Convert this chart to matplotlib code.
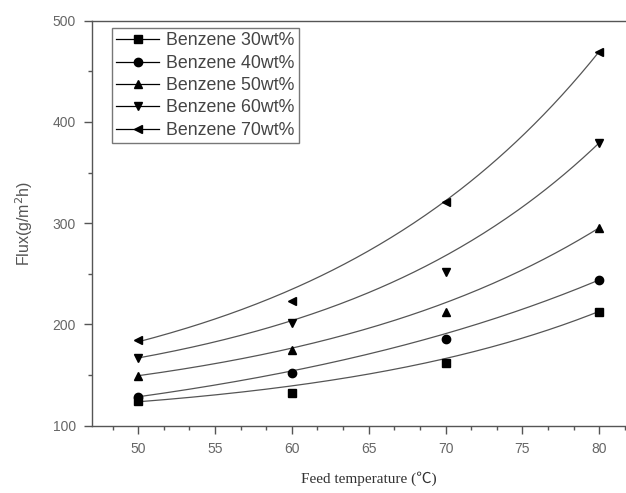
import numpy as np
import matplotlib.pyplot as plt

# Flux vs feed temperature for different benzene concentrations
temperature = [50, 60, 70, 80]
flux_30 = [124.7, 132.6, 162.0, 212.6]
flux_40 = [128.6, 152.0, 186.0, 244.0]
flux_50 = [149.0, 174.8, 212.6, 295.6]
flux_60 = [166.6, 201.0, 252.0, 379.5]
flux_70 = [184.6, 223.0, 321.0, 469.0]

# values of the fitted exponential curves at the same temperatures
curve_30 = [124.7, 137.0, 168.0, 212.6]
curve_40 = [128.6, 154.0, 191.0, 244.0]
curve_50 = [149.0, 177.4, 221.0, 295.6]
curve_60 = [166.6, 204.4, 267.6, 379.5]
curve_70 = [184.6, 230.8, 325.0, 469.0]

labels = ['Benzene 30wt%', 'Benzene 40wt%', 'Benzene 50wt%',
          'Benzene 60wt%', 'Benzene 70wt%']
markers = ['s', 'o', '^', 'v', '<']
series = [flux_30, flux_40, flux_50, flux_60, flux_70]
curves = [curve_30, curve_40, curve_50, curve_60, curve_70]


def exp_grow(x, y):
    # y = y0 + A*exp(b*(x-50)); scan b, linear least squares for y0 and A
    x = np.asarray(x, float)
    y = np.asarray(y, float)
    best = None
    for b in np.linspace(0.005, 0.12, 500):
        M = np.column_stack([np.ones_like(x), np.exp(b * (x - 50))])
        coef, *_ = np.linalg.lstsq(M, y, rcond=None)
        r = np.sum((M @ coef - y) ** 2)
        if best is None or r < best[0]:
            best = (r, coef, b)
    return best[1][0], best[1][1], best[2]


plt.rcParams['font.family'] = ['Liberation Sans', 'DejaVu Sans']
grey = '#555555'

fig = plt.figure(figsize=(6.26, 4.93), dpi=100)
ax = fig.add_axes([0.147, 0.1365, 0.884, 0.8215])

x_fit = np.linspace(50, 80, 200)
for y, c, lab, mk in zip(series, curves, labels, markers):
    y0, A, b = exp_grow(temperature, c)
    ax.plot(x_fit, y0 + A * np.exp(b * (x_fit - 50)), color=grey, lw=0.9)
    ax.plot(temperature, y, linestyle='none', marker=mk, color='black',
            markersize=6)
    # legend entry: line + marker
    ax.plot([], [], color='black', lw=0.9, marker=mk, markersize=6, label=lab)

ax.set_xlim(47, 83)
ax.set_ylim(100, 500)
ax.set_xticks([50, 55, 60, 65, 70, 75, 80])
ax.set_xticks(np.arange(47 + 4 / 3, 83, 5 / 3), minor=True)
ax.set_yticks([100, 200, 300, 400, 500])
ax.set_yticks([150, 250, 350, 450], minor=True)

for side in ['left', 'bottom', 'top', 'right']:
    ax.spines[side].set_color(grey)
    ax.spines[side].set_linewidth(1.0)
ax.tick_params(which='major', direction='out', length=5.5, width=1,
               colors=grey, labelsize=10, labelcolor='#666666', pad=6)
ax.tick_params(which='minor', direction='out', length=3, width=1, colors=grey)

ax.set_ylabel('Flux(g/m$^2$h)', fontsize=11.5, color='#555555', labelpad=13)
ax.set_xlabel('Feed temperature (\u2103)', fontsize=11, color='#333333',
              family=['Liberation Serif', 'Noto Sans CJK SC'], labelpad=11)

leg = ax.legend(loc='upper left', bbox_to_anchor=(0.036, 0.982),
                borderaxespad=0, fancybox=False, edgecolor='#777777',
                framealpha=1, handlelength=2.4, fontsize=12.8,
                labelspacing=0.3, borderpad=0.25, handletextpad=0.4)
leg.get_frame().set_linewidth(1.0)
for t in leg.get_texts():
    t.set_color('#444444')

fig.savefig('out.png', dpi=100)
